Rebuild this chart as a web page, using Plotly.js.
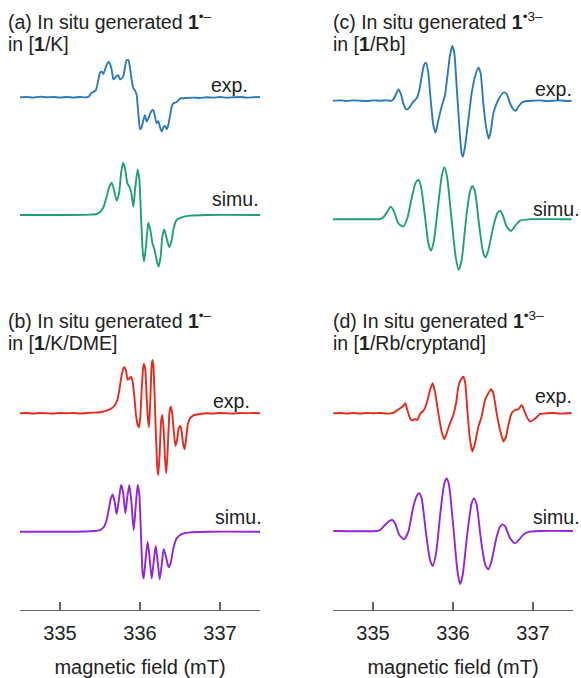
<!DOCTYPE html>
<html><head><meta charset="utf-8">
<script src="https://cdn.plot.ly/plotly-3.0.1.min.js"></script>
<style>html,body{margin:0;padding:0;background:#fff}#plot{width:581px;height:678px}</style>
</head><body><div id="plot"></div>
<script>
// ---- data: magnetic field (mT) and EPR intensity (arb. units) ----
const fieldAExp = [334.500,334.583,334.667,334.750,334.833,334.917,335.000,335.083,335.167,335.250,335.333,335.367,335.396,335.425,335.450,335.479,335.500,335.521,335.542,335.563,335.583,335.604,335.625,335.646,335.667,335.688,335.708,335.729,335.750,335.771,335.792,335.813,335.833,335.854,335.875,335.896,335.917,335.938,335.958,335.979,336.000,336.021,336.042,336.063,336.083,336.104,336.125,336.146,336.167,336.188,336.208,336.229,336.250,336.271,336.292,336.313,336.333,336.354,336.375,336.396,336.417,336.458,336.500,336.583,336.667,336.750,336.833,336.917,337.000,337.083,337.167,337.250,337.333,337.417,337.500];
const intAExp = [0,1,-1,2,0,1,-1,1,-1,1,0,4,14,17,22,52,74,77,70,84,97,107,100,82,54,58,64,66,54,56,64,92,112,112,90,52,27,20,7,-48,-96,-90,-68,-54,-73,-64,-50,-40,-38,-58,-78,-72,-90,-103,-90,-86,-96,-83,-56,-28,-18,-14,-4,-2,-1,-2,0,-1,1,-1,0,1,-1,0,1];

const fieldASim = [334.500,335.083,335.375,335.458,335.500,335.542,335.583,335.617,335.646,335.675,335.708,335.738,335.763,335.788,335.813,335.842,335.867,335.892,335.917,335.942,335.971,335.992,336.013,336.033,336.050,336.075,336.104,336.129,336.158,336.183,336.208,336.233,336.258,336.279,336.304,336.333,336.367,336.396,336.425,336.458,336.521,336.625,336.833,337.500];
const intASim = [0,0,1,3,9,23,55,85,97,75,43,65,125,157,140,95,85,65,25,85,137,105,-5,-105,-140,-95,-23,-45,-87,-105,-135,-155,-125,-65,-43,-70,-97,-75,-35,-15,-7,-2,0,0];

const fieldBExp = [334.500,334.583,334.667,334.750,334.833,334.917,335.000,335.083,335.167,335.250,335.333,335.417,335.500,335.583,335.646,335.688,335.717,335.742,335.767,335.792,335.808,335.825,335.846,335.867,335.888,335.908,335.929,335.950,335.971,335.988,336.004,336.021,336.038,336.050,336.067,336.083,336.100,336.113,336.129,336.142,336.154,336.167,336.183,336.200,336.217,336.229,336.246,336.263,336.279,336.296,336.313,336.329,336.346,336.367,336.383,336.400,336.421,336.442,336.463,336.483,336.504,336.521,336.538,336.558,336.575,336.596,336.625,336.667,336.750,336.833,336.917,337.000,337.083,337.167,337.250,337.333,337.417,337.500];
const intBExp = [0,1,-1,1,0,-1,1,0,1,-1,1,2,3,8,15,25,40,70,110,135,138,128,100,105,110,95,50,-5,-35,-42,-10,70,135,148,130,50,-20,-42,40,130,160,145,50,-70,-165,-185,-120,-25,-5,-50,-140,-180,-110,0,20,5,-50,-98,-80,-45,-38,-55,-90,-108,-80,-35,-15,-6,-2,0,-1,1,0,-1,1,0,1,0];

const fieldBSim = [334.500,335.167,335.417,335.500,335.550,335.583,335.608,335.633,335.658,335.683,335.708,335.733,335.763,335.788,335.817,335.842,335.867,335.892,335.921,335.946,335.971,335.992,336.013,336.033,336.046,336.071,336.096,336.121,336.146,336.171,336.196,336.221,336.246,336.271,336.296,336.325,336.358,336.388,336.417,336.458,336.521,336.625,336.833,337.500];
const intBSim = [0,0,2,5,15,35,65,97,112,90,53,90,140,120,55,105,140,90,5,75,140,110,-15,-125,-140,-80,-30,-80,-140,-90,-43,-90,-143,-100,-52,-75,-107,-90,-50,-20,-7,-2,0,0];

const fieldCExp = [334.500,334.588,334.671,334.754,334.838,334.921,335.004,335.088,335.171,335.233,335.254,335.283,335.317,335.346,335.379,335.408,335.433,335.463,335.504,335.546,335.579,335.608,335.638,335.663,335.692,335.721,335.754,335.783,335.817,335.858,335.900,335.929,335.963,335.992,336.017,336.046,336.079,336.108,336.125,336.150,336.192,336.233,336.275,336.317,336.346,336.379,336.413,336.446,336.475,336.504,336.546,336.588,336.638,336.671,336.713,336.754,336.788,336.817,336.858,336.921,337.004,337.088,337.171,337.254,337.338,337.421,337.483];
const intCExp = [0,1,-1,1,0,-1,1,0,1,0,4,17,34,22,-8,-24,-26,-18,-3,7,32,72,107,114,82,2,-73,-96,-58,-18,17,72,137,164,142,42,-78,-158,-168,-138,-58,22,72,100,82,-8,-78,-114,-88,-38,-8,12,25,20,-8,-26,-30,-18,-6,-1,0,1,-1,0,1,-1,0];

const fieldCSim = [334.500,334.921,335.088,335.129,335.179,335.221,335.263,335.317,335.379,335.429,335.483,335.533,335.567,335.600,335.650,335.692,335.725,335.763,335.817,335.858,335.892,335.925,335.983,336.033,336.071,336.108,336.171,336.213,336.242,336.275,336.329,336.379,336.408,336.442,336.504,336.554,336.588,336.621,336.671,336.725,336.775,336.838,336.963,337.483];
const intCSim = [0,0,1,6,23,38,23,-12,-22,3,63,110,118,98,8,-72,-94,-62,48,128,156,128,-2,-112,-152,-122,18,83,100,83,-22,-102,-114,-92,-22,18,26,13,-22,-35,-20,-4,0,0];

const fieldDExp = [334.504,334.588,334.671,334.754,334.838,334.921,335.004,335.088,335.171,335.254,335.296,335.338,335.379,335.404,335.429,335.463,335.492,335.525,335.554,335.588,335.638,335.671,335.713,335.746,335.775,335.817,335.858,335.892,335.921,335.963,336.004,336.038,336.067,336.096,336.129,336.154,336.179,336.213,336.242,336.275,336.317,336.358,336.400,336.442,336.475,336.504,336.546,336.588,336.629,336.663,336.692,336.733,336.775,336.817,336.858,336.888,336.921,336.963,337.004,337.046,337.088,337.171,337.254,337.338,337.421,337.483];
const intDExp = [0,1,-1,1,-1,1,0,1,-1,1,8,15,22,30,10,-15,-22,-17,-20,-2,10,30,70,90,65,0,-55,-78,-60,-30,-5,30,80,100,110,90,10,-80,-115,-90,-40,-10,40,60,72,60,0,-50,-85,-70,-35,0,10,12,25,10,-10,-25,-20,-12,-2,0,1,-1,0,1];

const fieldDSim = [334.504,335.046,335.088,335.150,335.204,335.242,335.275,335.329,335.388,335.442,335.504,335.554,335.579,335.608,335.663,335.713,335.746,335.788,335.846,335.892,335.921,335.950,336.004,336.054,336.088,336.121,336.179,336.233,336.263,336.296,336.350,336.404,336.442,336.479,336.546,336.588,336.621,336.654,336.713,336.775,336.829,336.888,336.963,337.088,337.500];
const intDSim = [0,0,3,18,30,33,23,-12,-25,-2,73,108,113,98,-7,-87,-105,-67,63,143,158,138,13,-117,-159,-132,-7,83,98,78,-27,-102,-115,-92,-17,13,20,13,-22,-37,-25,-9,-2,0,0];

const tickVals = [335, 336, 337];
const tickText = ['335', '336', '337'];
const axisTitle = 'magnetic field (mT)';

// ---- layout helpers (pixel positions) ----
const W = 581, H = 678;
const FONT = 'Liberation Sans, Arial, Helvetica, sans-serif';
const px = x => x / W;
const py = y => 1 - y / H;
const HALF = 75;           // half-height of each trace band in px
const UNIT = 3;            // intensity units per px

const panels = [
  {xa:'x',  fx:fieldAExp, iy:intAExp, base:97.3,  color:'#2a7bbd', shape:'spline', sm:0.4},
  {xa:'x',  fx:fieldASim, iy:intASim, base:215,   color:'#1fa07a', shape:'spline', sm:0.6},
  {xa:'x',  fx:fieldBExp, iy:intBExp, base:413.3, color:'#e5291d', shape:'spline', sm:0.4},
  {xa:'x',  fx:fieldBSim, iy:intBSim, base:531.7, color:'#9423d9', shape:'spline', sm:0.6},
  {xa:'x2', fx:fieldCExp, iy:intCExp, base:100.7, color:'#2a7bbd', shape:'spline', sm:0.5},
  {xa:'x2', fx:fieldCSim, iy:intCSim, base:219.3, color:'#1fa07a', shape:'spline', sm:0.6},
  {xa:'x2', fx:fieldDExp, iy:intDExp, base:413.3, color:'#e5291d', shape:'spline', sm:0.4},
  {xa:'x2', fx:fieldDSim, iy:intDSim, base:531,   color:'#9423d9', shape:'spline', sm:0.6}
];

const data = [];
const layout = {
  width: W, height: H,
  margin: {l:0, r:0, t:0, b:0},
  paper_bgcolor: '#fff', plot_bgcolor: 'rgba(0,0,0,0)',
  showlegend: false,
  font: {family: FONT, color: '#222', size: 19},
  annotations: []
};

const xaxisBase = {
  range: [334.5, 337.5], anchor: 'free', position: py(610),
  showline: true, linecolor: '#666', linewidth: 1.2,
  ticks: 'inside', ticklen: 8, tickwidth: 1.2, tickcolor: '#666',
  tickvals: tickVals, ticktext: tickText,
  tickfont: {family: FONT, size: 20, color: '#222'},
  ticklabelstandoff: 5,
  showgrid: false, zeroline: false, fixedrange: true,
  title: {text: axisTitle, font: {family: FONT, size: 20, color: '#222'}, standoff: 20}
};
layout.xaxis  = Object.assign({}, xaxisBase, {domain: [px(20), px(260)]});
layout.xaxis2 = Object.assign({}, xaxisBase, {domain: [px(333), px(573)]});

panels.forEach((p, i) => {
  const n = i + 1;
  const yname = n === 1 ? 'yaxis' : 'yaxis' + n;
  layout[yname] = {
    domain: [py(p.base + HALF), py(p.base - HALF)],
    range: [-HALF * UNIT, HALF * UNIT],
    anchor: p.xa, visible: false, fixedrange: true
  };
  data.push({
    type: 'scatter', mode: 'lines', x: p.fx, y: p.iy,
    xaxis: p.xa, yaxis: n === 1 ? 'y' : 'y' + n,
    line: {color: p.color, width: 1.9, shape: p.shape, smoothing: p.sm},
    hoverinfo: 'skip'
  });
});

function note(text, x, y, anchor) {
  layout.annotations.push({
    text: text, xref: 'paper', yref: 'paper', x: px(x), y: py(y),
    xanchor: anchor || 'left', yanchor: 'middle', showarrow: false,
    font: {family: FONT, size: 19.5, color: '#222'}
  });
}
note('(a) In situ generated <b>1</b><sup>•–</sup>', 6, 21);
note('in [<b>1</b>/K]', 6, 44);
note('(b) In situ generated <b>1</b><sup>•–</sup>', 6, 320);
note('in [<b>1</b>/K/DME]', 6, 343);
note('(c) In situ generated <b>1</b><sup>•3–</sup>', 331, 21);
note('in [<b>1</b>/Rb]', 331, 44);
note('(d) In situ generated <b>1</b><sup>•3–</sup>', 331, 320);
note('in [<b>1</b>/Rb/cryptand]', 331, 343);
note('exp.', 250, 85, 'right');
note('simu.', 261, 199, 'right');
note('exp.', 252, 401, 'right');
note('simu.', 264, 517, 'right');
note('exp.', 574, 89, 'right');
note('simu.', 582, 209, 'right');
note('exp.', 574, 396, 'right');
note('simu.', 582, 517, 'right');

Plotly.newPlot('plot', data, layout, {staticPlot: true, displayModeBar: false});
</script>
</body></html>
